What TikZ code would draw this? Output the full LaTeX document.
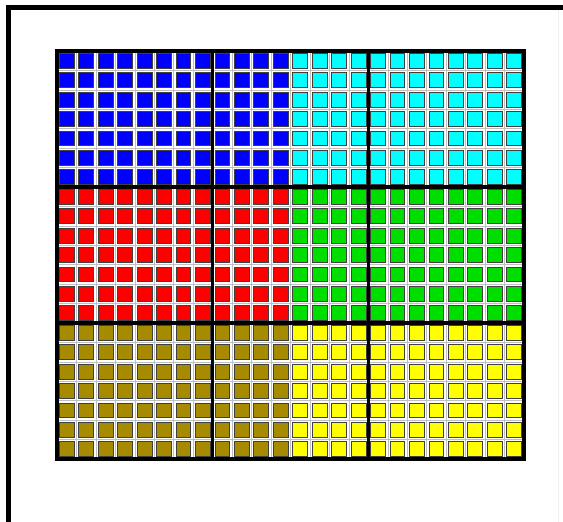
\documentclass[tikz,border=0pt]{standalone}
\definecolor{cBlue}{RGB}{0,0,255}
\definecolor{cCyan}{RGB}{0,255,255}
\definecolor{cRed}{RGB}{255,0,0}
\definecolor{cGreen}{RGB}{0,222,0}
\definecolor{cOlive}{RGB}{166,138,0}
\definecolor{cYellow}{RGB}{255,255,0}
\tikzset{
  cellbox/.style={draw=black!75, line width=0.9pt},
  gapline/.style={draw=black!25, line width=0.5pt},
  heavy/.style={draw=black, line width=3.5pt},
  framebar/.style={draw=black, line width=5pt},
}
\begin{document}
\begin{tikzpicture}[x=1pt,y=-1pt]
\useasboundingbox (0,0) rectangle (563,522);
\fill[white] (0,0) rectangle (563,522);
% frame
\draw[framebar] (8.5,522) -- (8.5,7.5) -- (563,7.5);
\draw[draw=black!6, line width=1pt] (558,10) -- (558,522);
% grid
\def\gx{57}\def\gy{51}\def\px{19.458}\def\py{19.43}
\fill[white] (\gx,\gy) rectangle ({\gx+24*\px},{\gy+21*\py});
\foreach \i in {1,...,23} \draw[gapline] ({\gx+\i*\px},\gy) -- ({\gx+\i*\px},{\gy+21*\py});
\foreach \j in {1,...,20} \draw[gapline] (\gx,{\gy+\j*\py}) -- ({\gx+24*\px},{\gy+\j*\py});
\foreach \c [count=\r from 0] in {cBlue/cCyan, cRed/cGreen, cOlive/cYellow}{
  \foreach \lc/\rc in \c {
    \foreach \j in {0,...,6}{
      \foreach \i in {0,...,23}{
        \pgfmathsetmacro{\xa}{\gx+\i*\px+2.3}
        \pgfmathsetmacro{\ya}{\gy+(\r*7+\j)*\py+2.3}
        \ifnum\i<12
          \draw[cellbox, fill=\lc] (\xa,\ya) rectangle ++(14.86,14.83);
        \else
          \draw[cellbox, fill=\rc] (\xa,\ya) rectangle ++(14.86,14.83);
        \fi
      }
    }
  }
}
\foreach \i in {8,16} \draw[heavy] ({\gx+\i*\px},\gy) -- ({\gx+\i*\px},{\gy+21*\py});
\foreach \j in {7,14} \draw[heavy] (\gx,{\gy+\j*\py}) -- ({\gx+24*\px},{\gy+\j*\py});
\draw[heavy] (\gx,\gy) rectangle ({\gx+24*\px},{\gy+21*\py});
\end{tikzpicture}
\end{document}
